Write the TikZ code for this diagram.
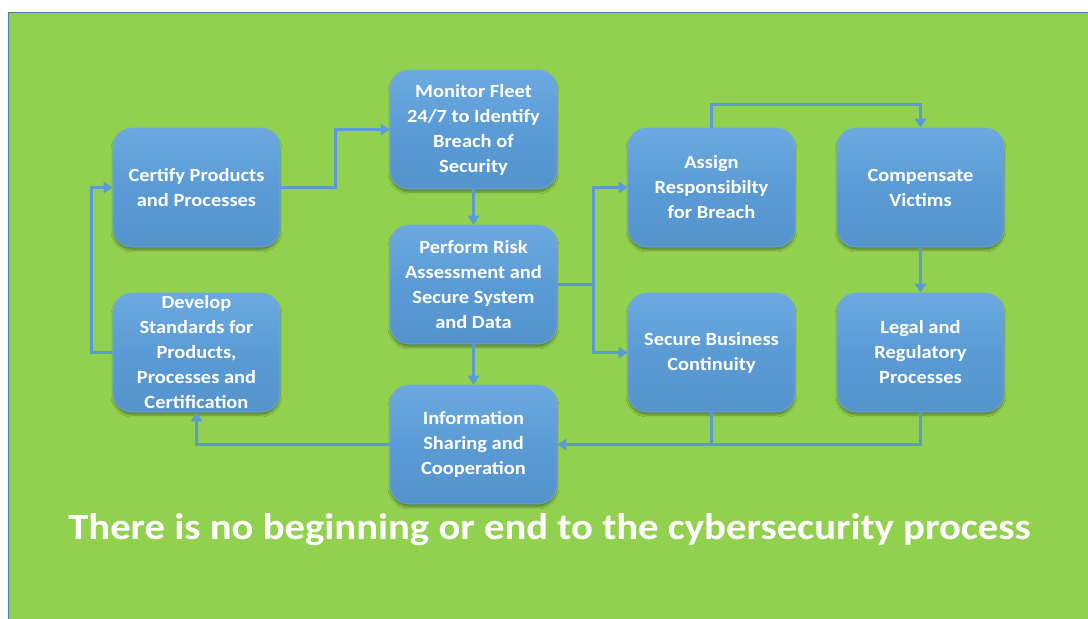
\documentclass[tikz,border=0pt]{standalone}
\usepackage{fontspec}
\setmainfont{Carlito}[FakeStretch=1.1]
\usetikzlibrary{arrows.meta,shadows.blur}
\definecolor{bggreen}{HTML}{92D050}
\definecolor{boxblue}{HTML}{5B9BD5}
\definecolor{boxtop}{HTML}{6CA9E0}
\definecolor{boxbot}{HTML}{5593CC}
\definecolor{edgeblue}{HTML}{4A7EBB}
\tikzset{
  procbox/.style={rectangle, rounded corners=19pt, minimum width=167pt, minimum height=119pt,
    inner sep=0pt, top color=boxtop, bottom color=boxbot, middle color=boxblue,
    draw=boxblue!85!white, line width=0.6pt,
    blur shadow={shadow xshift=0pt, shadow yshift=-3pt, shadow blur steps=6, shadow opacity=35},
    align=center, text=white, font=\bfseries\fontsize{18.6}{25}\selectfont},
  conn/.style={draw=boxblue, line width=3pt},
  arr/.style={conn, -{Triangle[length=9pt,width=11pt]}},
}
\begin{document}
\begin{tikzpicture}[x=1pt,y=-1pt]
\useasboundingbox (0,0) rectangle (1088,619);
\fill[bggreen] (8,12) rectangle (1088,619);
\draw[edgeblue, line width=1pt] (8,619) -- (8,12) -- (1088,12);

\node[procbox] (cert) at (196.5,187.5) {Certify Products\\and Processes};
\node[procbox] (dev) at (196.5,352.5) {Develop\\Standards for\\Products,\\Processes and\\Certification};
\node[procbox] (mon) at (473.5,129.5) {Monitor Fleet\\24/7 to Identify\\Breach of\\Security};
\node[procbox] (perf) at (473.5,284.5) {Perform Risk\\Assessment and\\Secure System\\and Data};
\node[procbox] (info) at (473.5,444.5) {Information\\Sharing and\\Cooperation};
\node[procbox] (asg) at (711.5,187.5) {Assign\\Responsibilty\\for Breach};
\node[procbox] (comp) at (920.5,187.5) {Compensate\\Victims};
\node[procbox] (sbc) at (711.5,352.5) {Secure Business\\Continuity};
\node[procbox] (legal) at (920.5,352.5) {Legal and\\Regulatory\\Processes};

\draw[arr] (cert.east) -- ++(55,0) |- (mon.west);
\draw[arr] (mon.south) -- (perf.north);
\draw[arr] (perf.south) -- (info.north);
\draw[arr] (perf.east) -- ++(36,0) |- (asg.west);
\draw[arr] (perf.east) -- ++(36,0) |- (sbc.west);
\draw[arr] (asg.north) -- ++(0,-23) -| (comp.north);
\draw[arr] (comp.south) -- (legal.north);
\draw[conn] (legal.south) |- (sbc.south |- info.east);
\draw[arr] (sbc.south) |- (info.east);
\draw[arr] (info.west) -| (dev.south);
\draw[arr] (dev.west) -- ++(-21,0) |- (cert.west);

\node[text=white, font=\bfseries\fontsize{37}{42}\selectfont] (title) at (549.5,530) {There is no beginning or end to the cybersecurity process};
\end{tikzpicture}
\end{document}
